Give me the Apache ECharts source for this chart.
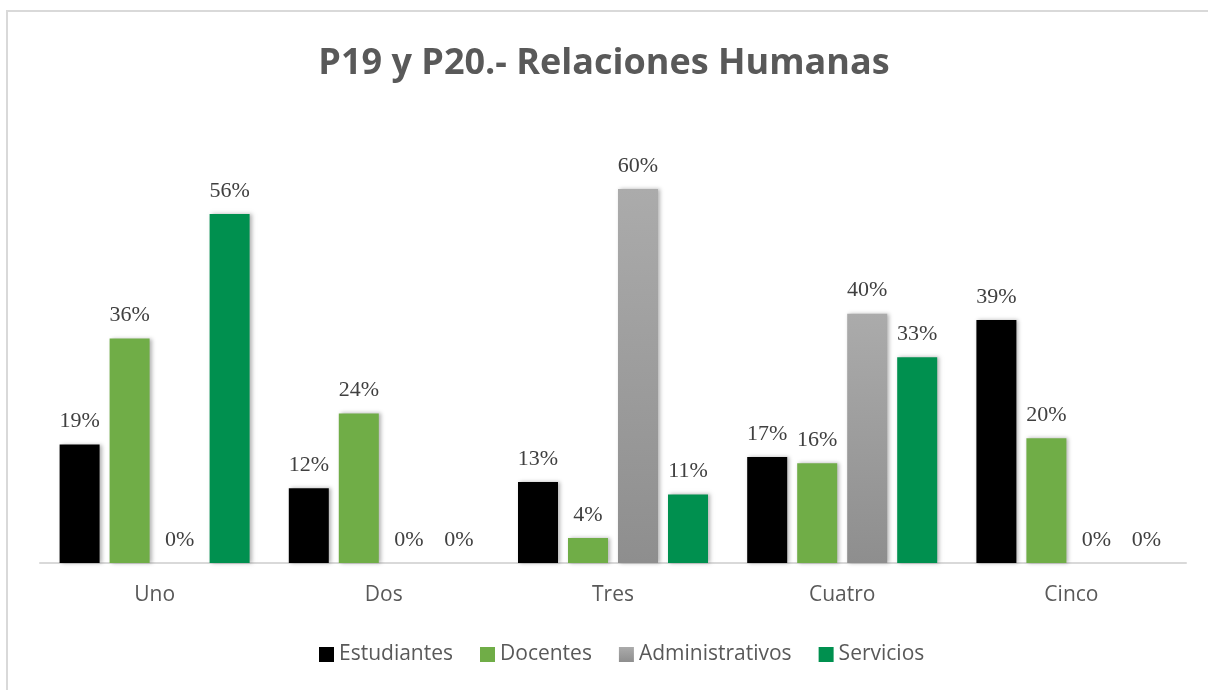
<!DOCTYPE html>
<html>
<head>
<meta charset="utf-8">
<style>
  html, body { margin: 0; padding: 0; background: #fff; }
  #chart { width: 1208px; height: 690px; }
</style>
<script src="https://cdn.jsdelivr.net/npm/echarts@6/dist/echarts.min.js"></script>
</head>
<body>
<div id="chart"></div>
<script>
const categories = ['Uno', 'Dos', 'Tres', 'Cuatro', 'Cinco']
const estudiantes = [19, 12, 13, 17, 39]
const docentes = [36, 24, 4, 16, 20]
const administrativos = [0, 0, 60, 40, 0]
const servicios = [56, 0, 11, 33, 0]

const chart = echarts.init(document.getElementById('chart'))

const labelStyle = {
  show: true,
  position: 'top',
  distance: 12,
  formatter: '{c}%',
  fontFamily: '"Liberation Serif", "DejaVu Serif", serif',
  fontSize: 22,
  color: '#404040'
}
const shadow = {
  shadowBlur: 4,
  shadowColor: 'rgba(0,0,0,0.3)',
  shadowOffsetX: 2,
  shadowOffsetY: 0
}

function makeSeries(name, data, color) {
  return {
    name: name,
    type: 'bar',
    data: data,
    barWidth: 40,
    barGap: '25%',
    label: labelStyle,
    itemStyle: Object.assign({ color: color }, shadow)
  }
}

const grayGrad = {
  type: 'linear', x: 0, y: 0, x2: 0, y2: 1,
  colorStops: [
    { offset: 0, color: '#ababab' },
    { offset: 1, color: '#8e8e8e' }
  ]
}

chart.setOption({
  animation: false,
  graphic: [{
    type: 'rect',
    shape: { x: 7, y: 11, width: 1300, height: 800 },
    style: { fill: 'none', stroke: '#d9d9d9', lineWidth: 2 },
    z: -1
  }],
  title: {
    text: 'P19 y P20.- Relaciones Humanas',
    left: 'center',
    top: 41,
    textStyle: {
      fontFamily: '"Open Sans", "Liberation Sans", sans-serif',
      fontSize: 36,
      fontWeight: 'bold',
      color: '#595959'
    }
  },
  legend: {
    bottom: 20,
    left: 314,
    itemWidth: 15,
    itemHeight: 15,
    itemGap: 27,
    icon: 'rect',
    textStyle: {
      fontFamily: '"Open Sans", "Liberation Sans", sans-serif',
      fontSize: 21,
      color: '#595959'
    },
    data: ['Estudiantes', 'Docentes', 'Administrativos', 'Servicios']
  },
  grid: {
    left: 40,
    right: 22,
    top: 189,
    bottom: 127
  },
  xAxis: {
    type: 'category',
    data: categories,
    axisLine: { lineStyle: { color: '#d9d9d9', width: 2 } },
    axisTick: { show: false },
    axisLabel: {
      margin: 22,
      fontFamily: '"Open Sans", "Liberation Sans", sans-serif',
      fontSize: 21,
      color: '#595959'
    }
  },
  yAxis: {
    type: 'value',
    min: 0,
    max: 60,
    show: false
  },
  series: [
    makeSeries('Estudiantes', estudiantes, '#000000'),
    makeSeries('Docentes', docentes, '#70ad47'),
    makeSeries('Administrativos', administrativos, grayGrad),
    makeSeries('Servicios', servicios, '#00904f')
  ]
})
</script>
</body>
</html>
